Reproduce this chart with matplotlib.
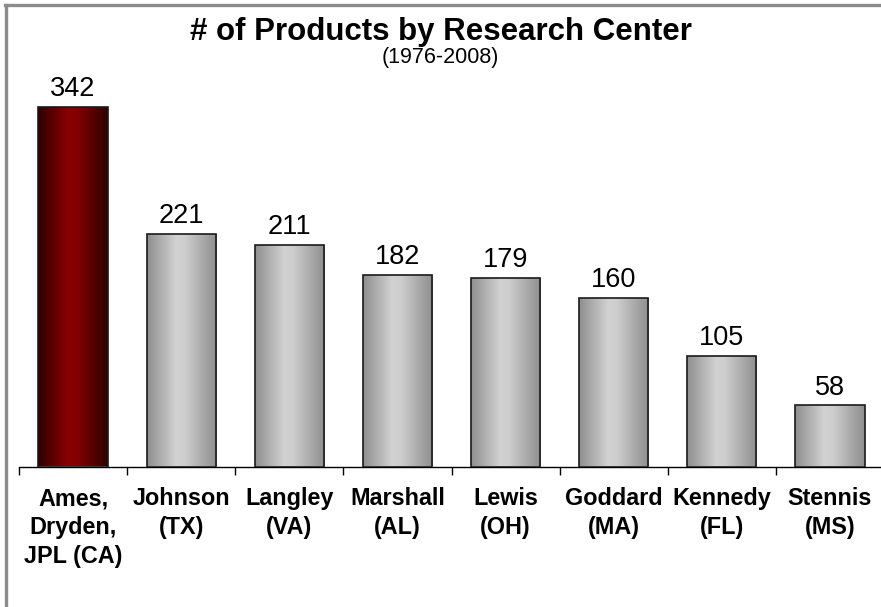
import numpy as np
import matplotlib
matplotlib.use("Agg")
import matplotlib.pyplot as plt
from matplotlib.colors import LinearSegmentedColormap
from matplotlib.lines import Line2D

centers = ["Ames,\nDryden,\nJPL (CA)", "Johnson\n(TX)", "Langley\n(VA)", "Marshall\n(AL)",
           "Lewis\n(OH)", "Goddard\n(MA)", "Kennedy\n(FL)", "Stennis\n(MS)"]
products = [342, 221, 211, 182, 179, 160, 105, 58]

plt.rcParams['font.family'] = ['Liberation Sans', 'DejaVu Sans']

red_cm = LinearSegmentedColormap.from_list("red", [(0, "#2e0000"), (0.42, "#8a0000"), (0.55, "#850000"), (1, "#2e0000")])
gray_cm = LinearSegmentedColormap.from_list("gray", [(0, "#8e8e8e"), (0.42, "#d2d2d2"), (0.55, "#cdcdcd"), (1, "#8e8e8e")])

fig = plt.figure(figsize=(8.81, 6.07), dpi=100)
ax = fig.add_axes([19 / 881, (607 - 466.5) / 607, 865 / 881, 420.8 / 607])

x = np.arange(len(products))
w = 0.64
bars = ax.bar(x, products, width=w, color="none", edgecolor="#1a1a1a", linewidth=1.2, zorder=3)
grad = np.linspace(0, 1, 256).reshape(1, -1)
for i, b in enumerate(bars):
    cm = red_cm if i == 0 else gray_cm
    im = ax.imshow(grad, cmap=cm, aspect="auto", zorder=2,
                   extent=[b.get_x(), b.get_x() + w, 0, b.get_height()])
    im.set_clip_path(b)
    ax.annotate(str(products[i]), (x[i], products[i]), xytext=(0, 3.5), textcoords="offset points",
                ha="center", va="bottom", fontsize=19.5)

ax.set_xlim(-0.5, len(products) - 0.5)
ax.set_ylim(0, 400)
for s in ["top", "right", "left"]:
    ax.spines[s].set_visible(False)
ax.spines["bottom"].set_linewidth(1.0)
ax.set_yticks([])
ax.set_xticks(x)
ax.set_xticklabels(centers, fontsize=16.8, fontweight="bold", linespacing=1.33)
ax.tick_params(axis="x", which="major", length=0, pad=15)
ax.set_xticks(np.arange(len(products) + 1) - 0.5, minor=True)
ax.tick_params(axis="x", which="minor", length=6, width=1.0, direction="out")

fig.text(0.5, 1 - 32 / 607, "# of Products by Research Center", ha="center", va="center",
         fontsize=22.5, fontweight="bold")
fig.text(0.5, 1 - 57 / 607, "(1976-2008)", ha="center", va="center", fontsize=15.5)

# outer frame (only top and left edges visible)
fig.add_artist(Line2D([5 / 881, 1], [1 - 4.5 / 607, 1 - 4.5 / 607], color="#8c8c8c", lw=2.4))
fig.add_artist(Line2D([5.5 / 881, 5.5 / 881], [0, 1 - 4.5 / 607], color="#8c8c8c", lw=2.4))

fig.savefig("out.png", dpi=100)
